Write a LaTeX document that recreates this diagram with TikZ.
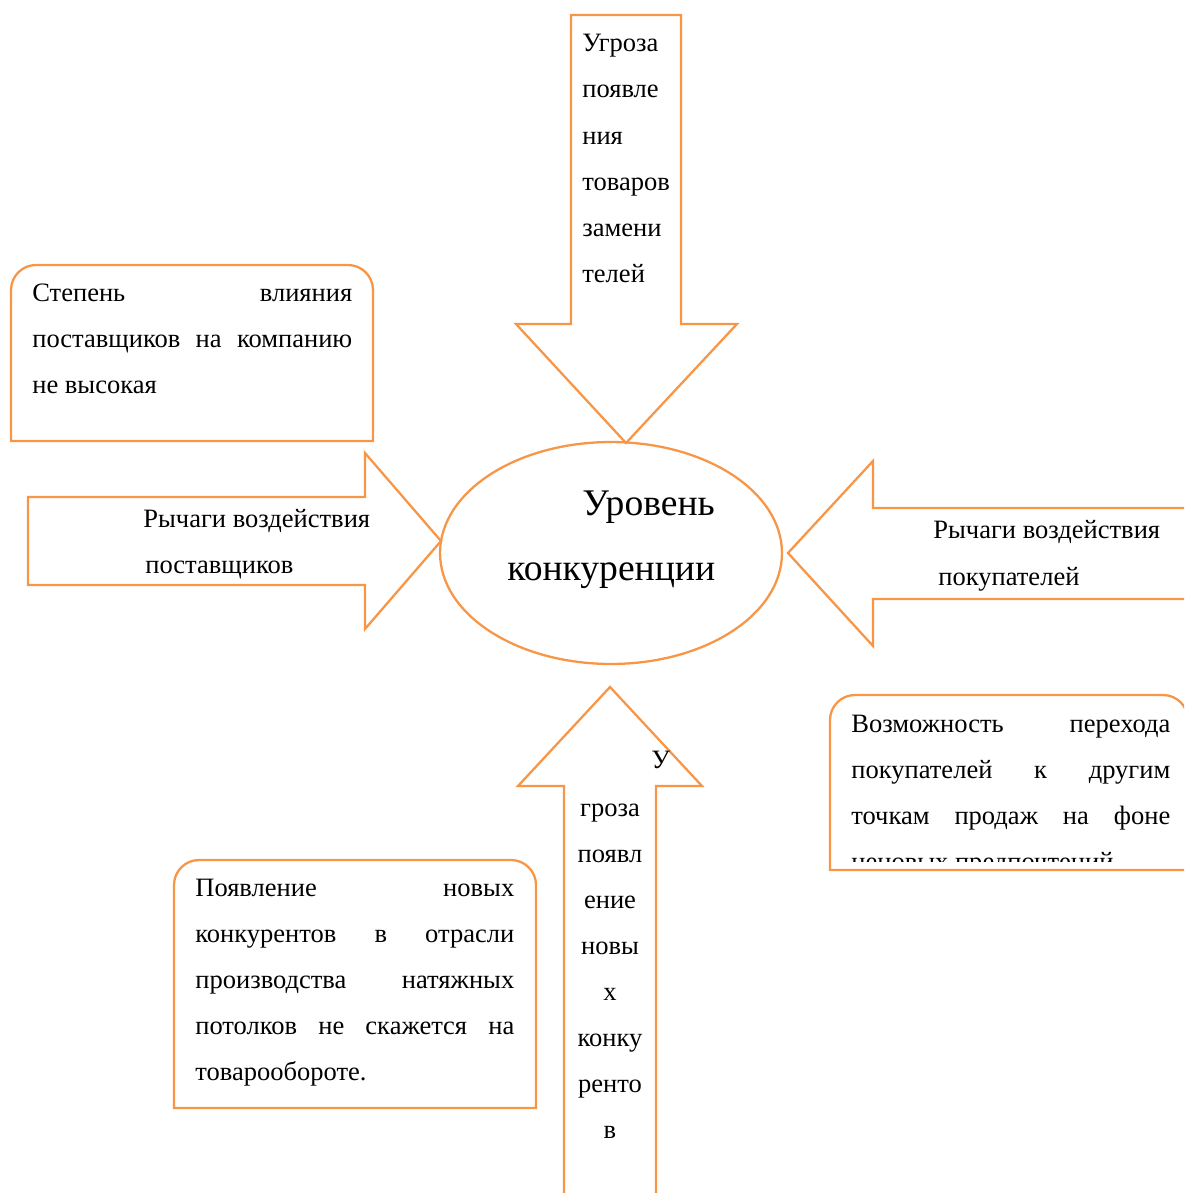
\documentclass[tikz,border=0pt]{standalone}
\usepackage{fontspec}
\setmainfont{Liberation Serif}
\usepackage{tikz}
\usetikzlibrary{shapes.geometric}
\definecolor{arroworange}{RGB}{247,150,70}

\begin{document}
\begin{tikzpicture}
    [x=0.02cm,y=-0.02cm,
     orangeline/.style={draw=arroworange,line width=1.3pt,line join=miter},
     txt/.style={font=\fontsize{15.1}{26}\selectfont,inner sep=0pt},
     bigtxt/.style={font=\fontsize{21.4}{26}\selectfont,inner sep=0pt}]
    \useasboundingbox (0,0) rectangle (1184,1193);
    \clip (0,0) rectangle (1184,1193);
    % centre
    \node [ellipse,orangeline,minimum width=6.84cm,minimum height=4.44cm,inner sep=0pt] (Level) at (611,553) {};
    \node [bigtxt,anchor=base west] (Level1) at (582,515) {Уровень};
    \node [bigtxt,anchor=base west] (Level2) at (507,580) {конкуренции};
    % block arrows
    \draw [orangeline] (571,15) -- (681,15) -- (681,324) -- (737,324) -- (626,443) -- (516,324) -- (571,324) -- cycle;
    \draw [orangeline] (28,497) -- (365,497) -- (365,453) -- (441,541) -- (365,629) -- (365,585) -- (28,585) -- cycle;
    \draw [orangeline] (1200,508) -- (873,508) -- (873,461) -- (788,553) -- (873,646) -- (873,599) -- (1200,599);
    \draw [orangeline] (564,1210) -- (564,786) -- (518,786) -- (610,687) -- (702,786) -- (656,786) -- (656,1210);
    % boxes
    \draw [orangeline] (11,441) [rounded corners=0.5cm] -- (11,265) -- (373,265) [sharp corners] -- (373,441) -- cycle;
    \draw [orangeline] (830,870) [rounded corners=0.5cm] -- (830,695) -- (1188,695) [sharp corners] -- (1188,870) -- cycle;
    \draw [orangeline] (174,1108) [rounded corners=0.5cm] -- (174,860) -- (536,860) [sharp corners] -- (536,1108) -- cycle;
    % texts
    \foreach \w [count=\i from 0] in {Угроза,появле,ния,товаров,замени,телей}
        \node [txt,anchor=base west] (Subst\i) at (582,{52+46*\i}) {\w};
    \foreach \w [count=\i from 0] in {Степень\hfill влияния,поставщиков\hfill на\hfill компанию,не высокая}
        \node [txt,anchor=base west] (Supp\i) at (32,{301+46*\i}) {\makebox[6.4cm][l]{\w}};
    \node [txt,anchor=base west] (SuppLev1) at (143,527) {Рычаги воздействия};
    \node [txt,anchor=base west] (SuppLev2) at (145,573) {поставщиков};
    \node [txt,anchor=base west] (BuyLev1) at (933,538) {Рычаги воздействия};
    \node [txt,anchor=base west] (BuyLev2) at (938,585) {покупателей};
    \begin{scope}
        \clip (830,695) rectangle (1184,861);
        \foreach \w [count=\i from 0] in {Возможность\hfill перехода,покупателей\hfill к\hfill другим,точкам\hfill продаж\hfill на\hfill фоне,ценовых предпочтений}
            \node [txt,anchor=base west] (Buy\i) at (851,{732+46*\i}) {\makebox[6.38cm][l]{\w}};
    \end{scope}
    \node [txt,anchor=base west] (NewU) at (651,768) {У};
    \foreach \w [count=\i from 0] in {гроза,появл,ение,новы,х,конку,ренто,в}
        \node [txt,anchor=base] (New\i) at (610,{816+46*\i}) {\w};
    \foreach \w [count=\i from 0] in {Появление\hfill новых,конкурентов\hfill в\hfill отрасли,производства\hfill натяжных,потолков\hfill не\hfill скажется\hfill на,товарообороте.}
        \node [txt,anchor=base west] (Entry\i) at (195,{896+46*\i}) {\makebox[6.38cm][l]{\w}};
\end{tikzpicture}
\end{document}
